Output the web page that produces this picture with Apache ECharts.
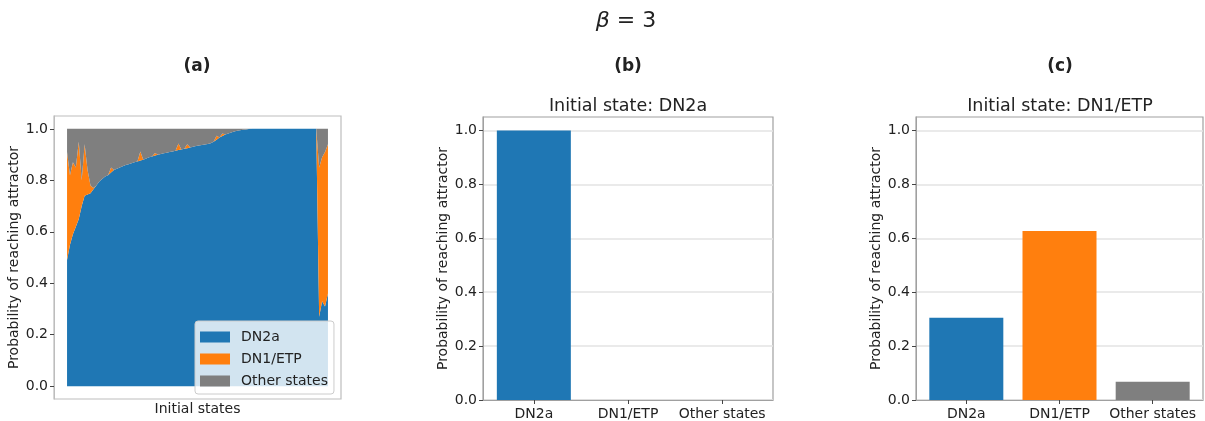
<!DOCTYPE html>
<html>
<head>
<meta charset="utf-8">
<script src="https://cdn.jsdelivr.net/npm/echarts@6/dist/echarts.min.js"></script>
<style>
html,body{margin:0;padding:0;background:#fff;}
#chart{width:1205px;height:421px;}
</style>
</head>
<body>
<div id="chart"></div>
<script>
// ---------- data ----------
const seriesNames = ['DN2a', 'DN1/ETP', 'Other states'];
const barCategories = ['DN2a', 'DN1/ETP', 'Other states'];

// Panel (a): probability per initial state (sorted)
const panelA_DN2a = [
  0.49, 0.55, 0.59, 0.62, 0.65, 0.70, 0.74, 0.745, 0.75, 0.765,
  0.78, 0.795, 0.805, 0.815, 0.82, 0.83, 0.84, 0.845, 0.85, 0.855,
  0.86, 0.862, 0.866, 0.87, 0.873, 0.877, 0.88, 0.885, 0.89, 0.893,
  0.896, 0.899, 0.902, 0.905, 0.907, 0.91, 0.912, 0.915, 0.918, 0.92,
  0.923, 0.925, 0.928, 0.93, 0.933, 0.935, 0.937, 0.939, 0.941, 0.944,
  0.95, 0.958, 0.966, 0.972, 0.978, 0.982, 0.986, 0.99, 0.993, 0.995,
  0.997, 0.998, 0.999, 1.0, 1.0, 1.0, 1.0, 1.0, 1.0, 1.0,
  1.0, 1.0, 1.0, 1.0, 1.0, 1.0, 1.0, 1.0, 1.0, 1.0,
  1.0, 1.0, 1.0, 1.0, 1.0, 1.0, 0.27, 0.33, 0.31, 0.36
];
const panelA_DN1ETP = [
  0.42, 0.27, 0.28, 0.23, 0.30, 0.10, 0.20, 0.095, 0.03, 0.005,
  0, 0, 0, 0, 0, 0.02, 0, 0, 0, 0,
  0, 0, 0, 0, 0, 0.035, 0, 0, 0, 0,
  0.01, 0, 0, 0, 0, 0, 0, 0, 0.025, 0,
  0, 0.015, 0, 0, 0, 0, 0, 0, 0, 0,
  0, 0.015, 0, 0.01, 0, 0, 0, 0, 0, 0,
  0, 0, 0, 0, 0, 0, 0, 0, 0, 0,
  0, 0, 0, 0, 0, 0, 0, 0, 0, 0,
  0, 0, 0, 0, 0, 0, 0.58, 0.56, 0.60, 0.58
];
const panelA_Other = [
  0.09, 0.18, 0.13, 0.15, 0.05, 0.20, 0.06, 0.16, 0.22, 0.23,
  0.22, 0.205, 0.195, 0.185, 0.18, 0.15, 0.16, 0.155, 0.15, 0.145,
  0.14, 0.138, 0.134, 0.13, 0.127, 0.088, 0.12, 0.115, 0.11, 0.107,
  0.094, 0.101, 0.098, 0.095, 0.093, 0.09, 0.088, 0.085, 0.057, 0.08,
  0.077, 0.06, 0.072, 0.07, 0.067, 0.065, 0.063, 0.061, 0.059, 0.056,
  0.05, 0.027, 0.034, 0.018, 0.022, 0.018, 0.014, 0.01, 0.007, 0.005,
  0.003, 0.002, 0.001, 0, 0, 0, 0, 0, 0, 0,
  0, 0, 0, 0, 0, 0, 0, 0, 0, 0,
  0, 0, 0, 0, 0, 0, 0.15, 0.11, 0.09, 0.06
];

// Panel (b): initial state DN2a
const panelB_values = [1.0, 0.0, 0.0];
// Panel (c): initial state DN1/ETP
const panelC_values = [0.305, 0.627, 0.068];

const yTickValues = [0, 0.2, 0.4, 0.6, 0.8, 1.0];
const barPositions = [0, 1, 2];

// ---------- styling ----------
const colors = ['#1f77b4', '#ff7f0e', '#7f7f7f'];
const FONT = 'DejaVu Sans';
const TXT = '#222';
const nA = panelA_DN2a.length;

// value first, index second -> y is the first (stacked) dimension
function toYX(arr) { return arr.map((v, i) => [v, i]); }

function yAxisCommon(gridIndex, min, max, frameColor, withSplit) {
  const ax = {
    type: 'value', gridIndex: gridIndex, min: min, max: max,
    name: 'Probability of reaching attractor',
    nameLocation: 'middle', nameGap: 30, nameRotate: 90,
    nameTextStyle: { fontSize: 14, color: TXT, fontFamily: FONT },
    axisLine: { show: true, onZero: false, lineStyle: { color: frameColor, width: 1 } },
    axisTick: { show: true, length: 4, customValues: yTickValues, lineStyle: { color: '#444' } },
    axisLabel: { customValues: yTickValues, formatter: v => v.toFixed(1), fontSize: 14, color: TXT, fontFamily: FONT, margin: 6 },
    splitLine: withSplit ? { show: true, lineStyle: { color: '#e3e3e3', width: 1.5 } } : { show: false }
  };
  if (withSplit) ax.interval = 0.2;
  return ax;
}

function barXAxis(gridIndex, frameColor) {
  return {
    type: 'value', gridIndex: gridIndex, min: -0.54, max: 2.54,
    axisLine: { show: true, onZero: false, lineStyle: { color: frameColor, width: 1 } },
    axisTick: { show: true, length: 4, customValues: barPositions, lineStyle: { color: '#444' } },
    axisLabel: { customValues: barPositions, formatter: v => barCategories[Math.round(v)], fontSize: 14, color: TXT, fontFamily: FONT, margin: 7 },
    splitLine: { show: false }
  };
}

const frameA = '#bdbdbd';
const frameBC = '#a0a0a0';

const option = {
  animation: false,
  backgroundColor: '#fff',
  textStyle: { fontFamily: FONT },
  color: colors,
  grid: [
    { left: 54, top: 116, width: 287, height: 284, show: true, borderColor: frameA, borderWidth: 1.2, containLabel: false },
    { left: 483, top: 117, width: 290, height: 283, show: true, borderColor: frameBC, borderWidth: 1.2, containLabel: false },
    { left: 916, top: 117, width: 287, height: 283, show: true, borderColor: frameBC, borderWidth: 1.2, containLabel: false }
  ],
  xAxis: [
    {
      type: 'value', gridIndex: 0, min: -0.05 * (nA - 1), max: (nA - 1) * 1.05,
      name: 'Initial states', nameLocation: 'middle', nameGap: 3,
      nameTextStyle: { fontSize: 14, color: TXT, fontFamily: FONT, verticalAlign: 'top' },
      axisLine: { show: false, onZero: false }, axisTick: { show: false }, axisLabel: { show: false }, splitLine: { show: false }
    },
    barXAxis(1, frameBC),
    barXAxis(2, frameBC)
  ],
  yAxis: [
    yAxisCommon(0, -0.05, 1.05, frameA, false),
    yAxisCommon(1, 0, 1.05, frameBC, true),
    yAxisCommon(2, 0, 1.05, frameBC, true)
  ],
  legend: {
    data: seriesNames,
    orient: 'vertical',
    left: 195, top: 321,
    icon: 'rect',
    itemWidth: 30, itemHeight: 11, itemGap: 8,
    padding: [9, 6, 6, 5],
    backgroundColor: 'rgba(255,255,255,0.8)',
    borderColor: '#cccccc', borderWidth: 1, borderRadius: 3,
    textStyle: { fontSize: 14, color: TXT, fontFamily: FONT, padding: [0, 0, 0, 6] },
    selectedMode: false
  },
  graphic: [
    { type: 'text', x: 626, y: 21, style: { text: '{i|β} = 3', rich: { i: { fontStyle: 'italic', fontSize: 22, fontFamily: FONT, fill: TXT } }, font: '22px DejaVu Sans', fill: TXT, align: 'center', verticalAlign: 'middle', textAlign: 'center', textVerticalAlign: 'middle' } },
    { type: 'text', x: 197, y: 67, style: { text: '(a)', font: 'bold 17px DejaVu Sans', fill: TXT, align: 'center', verticalAlign: 'middle', textAlign: 'center', textVerticalAlign: 'middle' } },
    { type: 'text', x: 628, y: 67, style: { text: '(b)', font: 'bold 17px DejaVu Sans', fill: TXT, align: 'center', verticalAlign: 'middle', textAlign: 'center', textVerticalAlign: 'middle' } },
    { type: 'text', x: 1060, y: 67, style: { text: '(c)', font: 'bold 17px DejaVu Sans', fill: TXT, align: 'center', verticalAlign: 'middle', textAlign: 'center', textVerticalAlign: 'middle' } },
    { type: 'text', x: 628, y: 106, style: { text: 'Initial state: DN2a', font: '17.5px DejaVu Sans', fill: TXT, align: 'center', verticalAlign: 'middle', textAlign: 'center', textVerticalAlign: 'middle' } },
    { type: 'text', x: 1060, y: 106, style: { text: 'Initial state: DN1/ETP', font: '17.5px DejaVu Sans', fill: TXT, align: 'center', verticalAlign: 'middle', textAlign: 'center', textVerticalAlign: 'middle' } }
  ],
  series: [
    {
      name: seriesNames[0], type: 'line', xAxisIndex: 0, yAxisIndex: 0, stack: 'a',
      encode: { x: 1, y: 0 },
      data: toYX(panelA_DN2a), symbol: 'none', lineStyle: { width: 0 },
      areaStyle: { color: colors[0], opacity: 1 }, itemStyle: { color: colors[0] }
    },
    {
      name: seriesNames[1], type: 'line', xAxisIndex: 0, yAxisIndex: 0, stack: 'a',
      encode: { x: 1, y: 0 },
      data: toYX(panelA_DN1ETP), symbol: 'none', lineStyle: { width: 0 },
      areaStyle: { color: colors[1], opacity: 1 }, itemStyle: { color: colors[1] }
    },
    {
      name: seriesNames[2], type: 'line', xAxisIndex: 0, yAxisIndex: 0, stack: 'a',
      encode: { x: 1, y: 0 },
      data: toYX(panelA_Other), symbol: 'none', lineStyle: { width: 0 },
      areaStyle: { color: colors[2], opacity: 1 }, itemStyle: { color: colors[2] }
    },
    {
      name: 'b', type: 'bar', xAxisIndex: 1, yAxisIndex: 1, barWidth: 74,
      data: panelB_values.map((v, i) => ({ value: [barPositions[i], v], itemStyle: { color: colors[i] } }))
    },
    {
      name: 'c', type: 'bar', xAxisIndex: 2, yAxisIndex: 2, barWidth: 74,
      data: panelC_values.map((v, i) => ({ value: [barPositions[i], v], itemStyle: { color: colors[i] } }))
    }
  ]
};

const chart = echarts.init(document.getElementById('chart'), null, { renderer: 'canvas' });
chart.setOption(option);
</script>
</body>
</html>
